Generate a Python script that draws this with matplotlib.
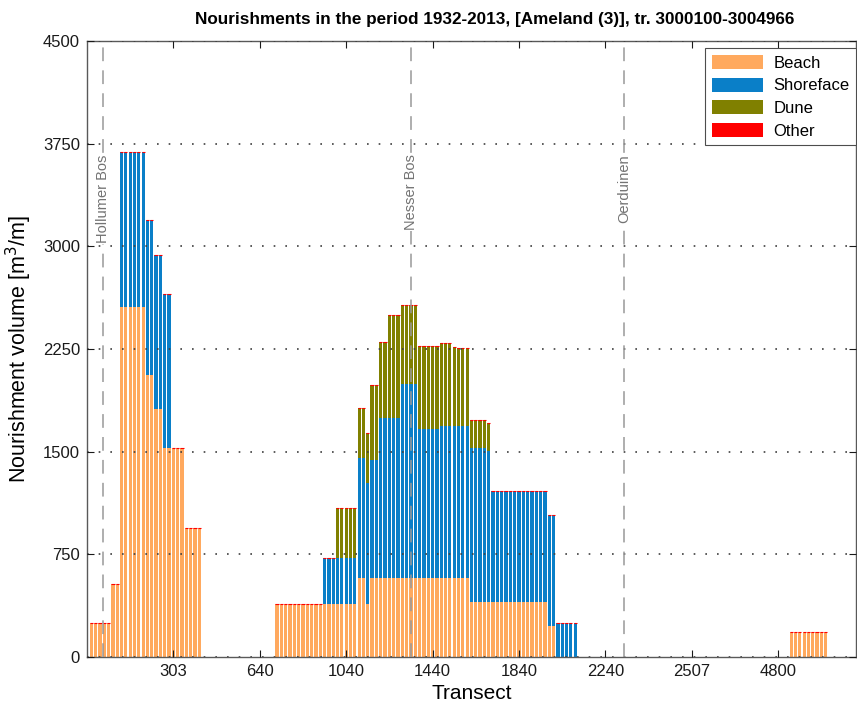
import numpy as np
import matplotlib
matplotlib.use("Agg")
import matplotlib.pyplot as plt
from matplotlib.patches import Patch

plt.rcParams['font.family'] = ['Liberation Sans', 'DejaVu Sans']

# nourishment volume per transect [m3/m], one value per transect (left to right)
beach = [
    250, 250, 250, 250, 250, 530, 530, 2560, 2560, 2560, 2560, 2560, 2560, 2060, 2060, 1810, 1810, 1530, 1530, 1530,
    1530, 1530, 940, 940, 940, 940, 0, 0, 0, 0, 0, 0, 0, 0, 0, 0, 0, 0, 0, 0,
    0, 0, 0, 385, 385, 385, 385, 385, 385, 385, 385, 385, 385, 385, 385, 385, 385, 385, 385, 385,
    385, 385, 580, 580, 390, 580, 580, 580, 580, 580, 580, 580, 580, 580, 580, 580, 580, 580, 580, 580,
    580, 580, 580, 580, 580, 580, 580, 580, 405, 405, 405, 405, 405, 405, 405, 405, 405, 405, 405, 405,
    405, 405, 405, 405, 405, 405, 225, 225, 0, 0, 0, 0, 0, 0, 0, 0, 0, 0, 0, 0,
    0, 0, 0, 0, 0, 0, 0, 0, 0, 0, 0, 0, 0, 0, 0, 0, 0, 0, 0, 0,
    0, 0, 0, 0, 0, 0, 0, 0, 0, 0, 0, 0, 0, 0, 0, 0, 0, 0, 0, 0,
    0, 0, 185, 185, 185, 185, 185, 185, 185, 185, 185,
]
shoreface = [
    0, 0, 0, 0, 0, 0, 0, 1130, 1130, 1130, 1130, 1130, 1130, 1135, 1135, 1130, 1130, 1125, 1125, 0,
    0, 0, 0, 0, 0, 0, 0, 0, 0, 0, 0, 0, 0, 0, 0, 0, 0, 0, 0, 0,
    0, 0, 0, 0, 0, 0, 0, 0, 0, 0, 0, 0, 0, 0, 335, 335, 335, 335, 335, 335,
    335, 335, 870, 870, 880, 860, 860, 1165, 1165, 1165, 1165, 1165, 1415, 1415, 1415, 1415, 1085, 1085, 1085, 1085,
    1085, 1105, 1105, 1105, 1105, 1105, 1105, 1105, 1120, 1120, 1120, 1120, 1100, 805, 805, 805, 805, 805, 805, 805,
    805, 805, 805, 805, 805, 805, 810, 810, 245, 245, 245, 245, 245, 0, 0, 0, 0, 0, 0, 0,
    0, 0, 0, 0, 0, 0, 0, 0, 0, 0, 0, 0, 0, 0, 0, 0, 0, 0, 0, 0,
    0, 0, 0, 0, 0, 0, 0, 0, 0, 0, 0, 0, 0, 0, 0, 0, 0, 0, 0, 0,
    0, 0, 0, 0, 0, 0, 0, 0, 0, 0, 0,
]
dune = [
    0, 0, 0, 0, 0, 0, 0, 0, 0, 0, 0, 0, 0, 0, 0, 0, 0, 0, 0, 0,
    0, 0, 0, 0, 0, 0, 0, 0, 0, 0, 0, 0, 0, 0, 0, 0, 0, 0, 0, 0,
    0, 0, 0, 0, 0, 0, 0, 0, 0, 0, 0, 0, 0, 0, 0, 0, 0, 365, 365, 365,
    365, 365, 370, 370, 365, 550, 550, 555, 555, 755, 755, 755, 575, 575, 575, 575, 605, 605, 605, 605,
    605, 605, 605, 605, 580, 570, 570, 575, 205, 205, 205, 205, 205, 0, 0, 0, 0, 0, 0, 0,
    0, 0, 0, 0, 0, 0, 0, 0, 0, 0, 0, 0, 0, 0, 0, 0, 0, 0, 0, 0,
    0, 0, 0, 0, 0, 0, 0, 0, 0, 0, 0, 0, 0, 0, 0, 0, 0, 0, 0, 0,
    0, 0, 0, 0, 0, 0, 0, 0, 0, 0, 0, 0, 0, 0, 0, 0, 0, 0, 0, 0,
    0, 0, 0, 0, 0, 0, 0, 0, 0, 0, 0,
]
other = [0] * len(beach)

# transect labels shown at every 20th transect
tick_labels = ['303', '640', '1040', '1440', '1840', '2240', '2507', '4800']

# named locations (position in transect index)
place_names = ['Hollumer Bos', 'Nesser Bos', 'Oerduinen']
place_pos = [3.8, 75.0, 124.3]

c_beach = '#ffa95e'
c_shore = '#0a7fc8'
c_dune = '#808000'
c_other = '#ff0000'

beach = np.array(beach)
shoreface = np.array(shoreface)
dune = np.array(dune)
other = np.array(other)
x = np.arange(1, len(beach) + 1)

fig = plt.figure(figsize=(8.57, 7.04), dpi=100)
ax = fig.add_axes([0.1015, 0.0668, 0.8973, 0.875])

w = 0.75
ax.bar(x, beach, width=w, color=c_beach, linewidth=0)
ax.bar(x, shoreface, width=w, bottom=beach, color=c_shore, linewidth=0)
ax.bar(x, dune, width=w, bottom=beach + shoreface, color=c_dune, linewidth=0)

top = beach + shoreface + dune
has = top > 0
ax.bar(x[has], other[has], width=w, bottom=top[has], color=c_other,
       edgecolor=c_other, linewidth=0.8)

for name, pos in zip(place_names, place_pos):
    ax.axvline(pos, color='0.6', linestyle=(0, (9, 6)), linewidth=1.1, zorder=3)
    ax.text(pos, 3670, name, rotation=90, ha='center', va='top',
            fontsize=10.5, color='0.45', zorder=4,
            bbox=dict(facecolor='white', edgecolor='none', pad=0.5))

ax.set_xlim(0, 178)
ax.set_ylim(0, 4500)
ax.set_yticks(np.arange(0, 4501, 750))
ax.set_xticks(np.arange(1, len(tick_labels) + 1) * 20)
ax.set_xticklabels(tick_labels)

ax.yaxis.grid(True, linestyle=(0, (1, 6)), color='0.25', linewidth=1.2)
ax.set_axisbelow(False)

ax.tick_params(direction='in', top=True, right=True, labelsize=12, length=5,
               width=0.8, colors='0.1', pad=5)
for s in ax.spines.values():
    s.set_color('0.35')
    s.set_linewidth(1.0)

ax.set_xlabel('Transect', fontsize=15, labelpad=4)
ax.set_ylabel('Nourishment volume [m$^3$/m]', fontsize=15.5, labelpad=6)
ax.set_title('Nourishments in the period 1932-2013, [Ameland (3)], tr. 3000100-3004966',
             fontsize=12.3, fontweight='bold', pad=12, x=0.53)

handles = [Patch(facecolor=c_beach, edgecolor='none'),
           Patch(facecolor=c_shore, edgecolor='none'),
           Patch(facecolor=c_dune, edgecolor='none'),
           Patch(facecolor=c_other, edgecolor='none')]
leg = ax.legend(handles, ['Beach', 'Shoreface', 'Dune', 'Other'],
                loc='upper right', bbox_to_anchor=(1.0, 0.988), fontsize=12,
                handlelength=3.1, handleheight=0.9, labelspacing=0.42,
                handletextpad=0.6, borderaxespad=0.0, fancybox=False,
                framealpha=1, borderpad=0.4)
leg.get_frame().set_edgecolor('0.3')
leg.get_frame().set_linewidth(0.8)

fig.savefig('out.png', dpi=100)
